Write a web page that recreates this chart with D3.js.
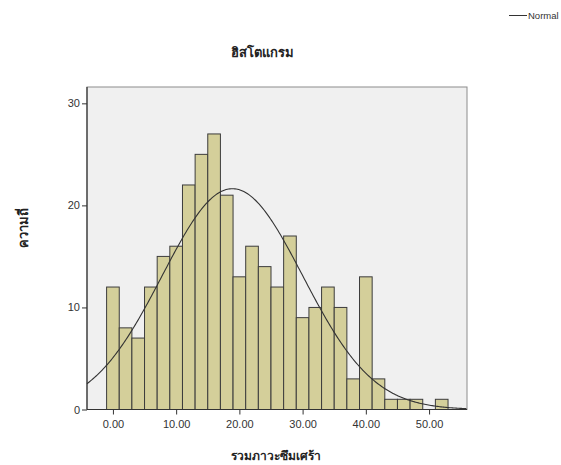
<!DOCTYPE html>
<html>
<head>
<meta charset="utf-8">
<script src="https://cdn.jsdelivr.net/npm/d3@7"></script>
<style>
  html, body { margin: 0; padding: 0; background: #fff; }
  svg { display: block; }
</style>
</head>
<body>
<svg id="chart" width="561" height="465"></svg>
<script>
// Histogram bins (lower edge) and frequencies
const binStarts = [-1, 1, 3, 5, 7, 9, 11, 13, 15, 17, 19, 21, 23, 25, 27, 29, 31, 33, 35, 37, 39, 41, 43, 45, 47, 49, 51];
const binWidth = 2;
const counts = [12, 8, 7, 12, 15, 16, 22, 25, 27, 21, 13, 16, 14, 12, 17, 9, 10, 12, 10, 3, 13, 3, 1, 1, 1, 0, 1];

// Axis ticks
const xTicks = [0, 10, 20, 30, 40, 50];
const yTicks = [0, 10, 20, 30];

// Fitted normal curve parameters
const fitMean = 18.9;
const fitSD = 11.1;

const titleText = "ฮิสโตแกรม";
const xLabel = "รวมภาวะซึมเศร้า";
const yLabel = "ความถี่";
const legendText = "Normal";

const svg = d3.select("#chart");
const plot = { left: 87, top: 87, right: 467, bottom: 409.5 };

const x = d3.scaleLinear().domain([-4.1, 56]).range([plot.left, plot.right]);
const y = d3.scaleLinear().domain([0, 31.6]).range([plot.bottom, plot.top]);

// Plot background
svg.append("rect")
  .attr("x", plot.left).attr("y", plot.top)
  .attr("width", plot.right - plot.left).attr("height", plot.bottom - plot.top)
  .attr("fill", "#f0f0f0").attr("stroke", "#8c8c8c").attr("stroke-width", 1);

// Bars
const bins = binStarts.map((s, i) => ({ x0: s, x1: s + binWidth, n: counts[i] }));
svg.append("g").selectAll("rect")
  .data(bins.filter(d => d.n > 0))
  .join("rect")
  .attr("x", d => x(d.x0))
  .attr("y", d => y(d.n))
  .attr("width", d => x(d.x1) - x(d.x0))
  .attr("height", d => y(0) - y(d.n))
  .attr("fill", "#d4cf9a")
  .attr("stroke", "#3c3c3c")
  .attr("stroke-width", 1);

// Normal curve scaled to frequency counts
const total = d3.sum(counts);
const normalY = v => total * binWidth / (fitSD * Math.sqrt(2 * Math.PI)) *
  Math.exp(-((v - fitMean) ** 2) / (2 * fitSD * fitSD));
const curvePts = d3.range(x.domain()[0], x.domain()[1] + 0.001, 0.2).map(v => [v, normalY(v)]);
svg.append("path")
  .datum(curvePts)
  .attr("fill", "none")
  .attr("stroke", "#333")
  .attr("stroke-width", 1.1)
  .attr("d", d3.line().x(d => x(d[0])).y(d => y(d[1])));

// Axes
const xAxis = svg.append("g")
  .attr("transform", `translate(0,${plot.bottom})`)
  .call(d3.axisBottom(x).tickValues(xTicks).tickFormat(d3.format(".2f")).tickSize(5).tickSizeOuter(0));
const yAxis = svg.append("g")
  .attr("transform", `translate(${plot.left},0)`)
  .call(d3.axisLeft(y).tickValues(yTicks).tickFormat(d3.format("d")).tickSize(5).tickSizeOuter(0));

[xAxis, yAxis].forEach(g => {
  g.select(".domain").attr("stroke", "#333").attr("stroke-width", 1.2);
  g.selectAll(".tick line").attr("stroke", "#333");
  g.selectAll(".tick text")
    .attr("font-family", "'Liberation Sans', Arial, sans-serif")
    .attr("font-size", 11)
    .attr("fill", "#333");
});
xAxis.select(".domain").attr("d", `M${plot.left},0H${plot.right}`);
yAxis.select(".domain").attr("d", `M0,${plot.top}V${plot.bottom}`);
xAxis.selectAll(".tick text").attr("dy", "0.95em");
yAxis.selectAll(".tick text").attr("x", -7);

// Titles
const thaiFont = "'Noto Sans', 'DejaVu Sans', sans-serif";
svg.append("text")
  .attr("x", 262).attr("y", 57)
  .attr("text-anchor", "middle")
  .attr("font-family", thaiFont).attr("font-size", 13).attr("font-weight", "bold")
  .attr("fill", "#222")
  .text(titleText);

svg.append("text")
  .attr("x", 276).attr("y", 460)
  .attr("text-anchor", "middle")
  .attr("font-family", thaiFont).attr("font-size", 12).attr("font-weight", "bold")
  .attr("fill", "#222")
  .text(xLabel);

svg.append("text")
  .attr("transform", "translate(28,228) rotate(-90)")
  .attr("text-anchor", "middle")
  .attr("font-family", thaiFont).attr("font-size", 13).attr("font-weight", "bold")
  .attr("fill", "#222")
  .text(yLabel);

// Legend
svg.append("line")
  .attr("x1", 509).attr("x2", 527).attr("y1", 15.5).attr("y2", 15.5)
  .attr("stroke", "#333").attr("stroke-width", 1);
svg.append("text")
  .attr("x", 528).attr("y", 19)
  .attr("font-family", "'Liberation Sans', Arial, sans-serif")
  .attr("font-size", 9.5)
  .attr("fill", "#333")
  .text(legendText);
</script>
</body>
</html>
